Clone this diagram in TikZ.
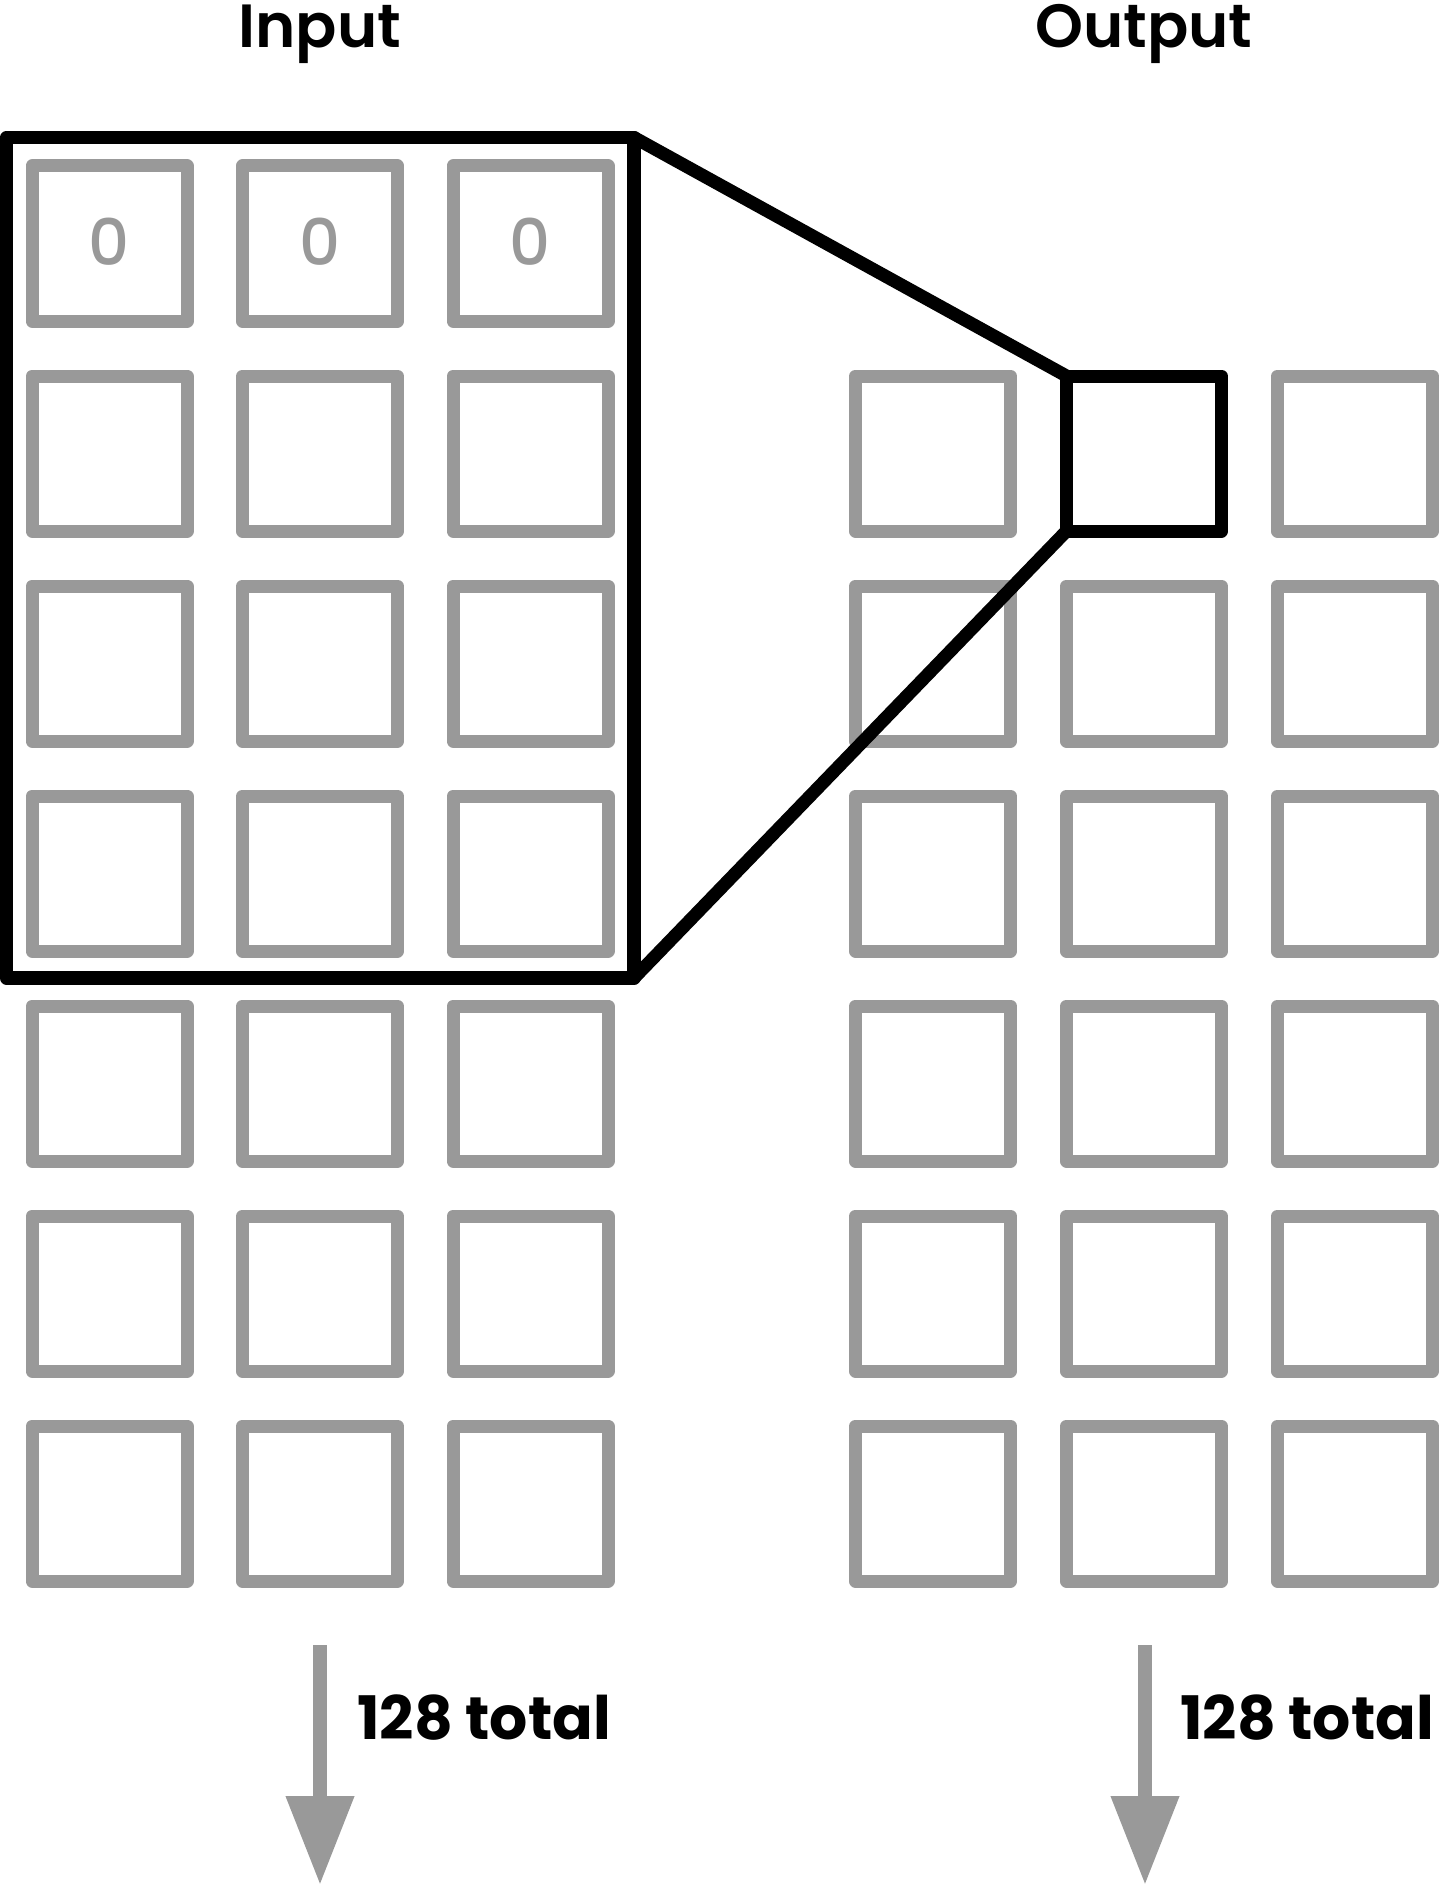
\documentclass[tikz,border=0pt]{standalone}
\usepackage{fontspec}
\setmainfont{Poppins}
\newfontfamily\zerofont{Poppins Medium}
\newfontfamily\titlefont{Poppins SemiBold}
\usetikzlibrary{arrows.meta}
\definecolor{boxgray}{RGB}{153,153,153}
\begin{document}
\begin{tikzpicture}[x=1pt,y=-1pt,
  gbox/.style={draw=boxgray,line width=13pt,line join=round,minimum width=155pt,minimum height=155pt,inner sep=0pt,outer sep=0pt,shape=rectangle},
  kbox/.style={draw=black,line width=13pt,line join=round,minimum width=155pt,minimum height=155pt,inner sep=0pt,outer sep=0pt,shape=rectangle},
  bigbox/.style={draw=black,line width=13.5pt,line join=round,inner sep=0pt,outer sep=0pt,shape=rectangle},
  link/.style={draw=black,line width=13pt,line join=round,line cap=round},
  countarrow/.style={draw=boxgray,line width=14pt,-{Triangle[width=65pt,length=89pt]}},
  title/.style={font=\fontsize{61}{70}\titlefont,anchor=base,inner sep=0pt},
  count/.style={font=\fontsize{60}{72}\selectfont\bfseries,anchor=base west,inner sep=0pt},
  zero/.style={text=boxgray,font=\fontsize{64}{70}\zerofont,inner sep=0pt}
]
\useasboundingbox (0,0) rectangle (1440,1886);
% titles
\node[title] (tin) at (320,48) {Input};
\node[title] (tout) at (1144,48) {Output};
% input grid
\foreach \c/\x in {1/109.5,2/320,3/530.5}{
  \foreach \r/\y in {1/243.5,2/453.5,3/663.5,4/873.5,5/1083.5,6/1293.5,7/1503.5}{
    \node[gbox] (in-\r-\c) at (\x,\y) {};
  }
}
\foreach \c in {1,2,3}{
  \node[zero] (z\c) at ([yshift=2pt]in-1-\c.center) {0};
}
% output grid
\foreach \c/\x in {1/933,2/1144,3/1355}{
  \foreach \r/\y in {2/663.5,3/873.5,4/1083.5,5/1293.5,6/1503.5}{
    \node[gbox] (out-\r-\c) at (\x,\y) {};
  }
}
\node[gbox] (out-1-1) at (933,453.5) {};
\node[gbox] (out-1-3) at (1355,453.5) {};
\node[kbox] (sq) at (1144,453.5) {};
% receptive field
\node[bigbox,minimum width=627.5pt,minimum height=840.5pt] (big) at (320.25,557.75) {};
\draw[link] (big.north east) -- (sq.north west);
\draw[link] (big.south east) -- (sq.south west);
% arrows
\coordinate (a1s) at (320,1645);
\coordinate (a1e) at (320,1885);
\coordinate (a2s) at (1145,1645);
\coordinate (a2e) at (1145,1885);
\draw[countarrow] (a1s) -- (a1e);
\draw[countarrow] (a2s) -- (a2e);
\node[count] (c1) at (357,1739) {128 total};
\node[count] (c2) at (1180,1739) {128 total};
\end{tikzpicture}
\end{document}
